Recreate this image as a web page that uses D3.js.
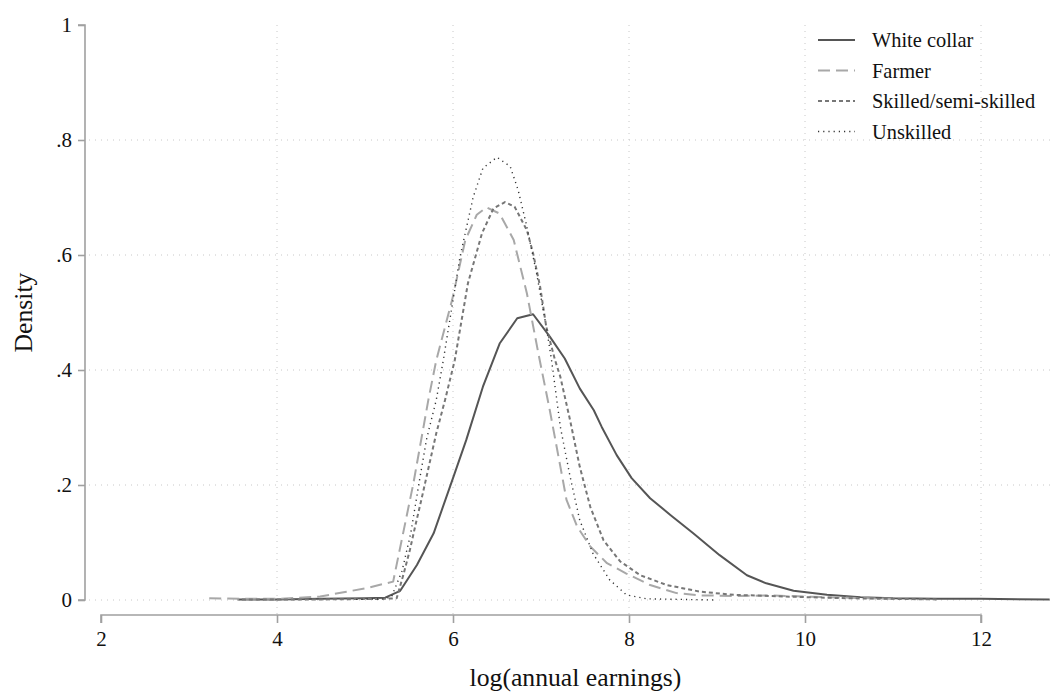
<!DOCTYPE html>
<html>
<head>
<meta charset="utf-8">
<script src="https://cdn.jsdelivr.net/npm/d3@7"></script>
<style>
  body { margin: 0; background: #fff; }
  text { font-family: "Liberation Serif", "Times New Roman", serif; fill: #111; }
</style>
</head>
<body>
<svg width="1056" height="694"></svg>
<script>
// kernel density estimates
var whiteX = [3.55, 4.0, 4.5, 5.0, 5.23, 5.40, 5.59, 5.78, 6.0, 6.15, 6.34, 6.53, 6.73, 6.91, 7.10, 7.27, 7.44, 7.6, 7.69, 7.86, 8.03, 8.24, 8.47, 8.73, 9.03, 9.34, 9.56, 9.87, 10.25, 10.63, 11.0, 11.5, 12.0, 12.78];
var whiteY = [0.001, 0.001, 0.002, 0.003, 0.004, 0.016, 0.061, 0.116, 0.212, 0.278, 0.371, 0.446, 0.490, 0.497, 0.458, 0.42, 0.368, 0.33, 0.301, 0.252, 0.212, 0.177, 0.148, 0.116, 0.078, 0.043, 0.029, 0.016, 0.009, 0.005, 0.003, 0.002, 0.002, 0.001];

var farmX = [3.23, 3.6, 4.0, 4.49, 4.79, 5.0, 5.32, 5.55, 5.72, 5.81, 5.99, 6.14, 6.27, 6.38, 6.53, 6.69, 6.84, 6.97, 7.1, 7.22, 7.29, 7.41, 7.56, 7.75, 7.97, 8.24, 8.54, 8.81, 9.2, 9.6, 10.0, 10.5, 11.0];
var farmY = [0.003, 0.002, 0.002, 0.006, 0.0145, 0.02, 0.032, 0.203, 0.348, 0.417, 0.522, 0.626, 0.670, 0.683, 0.672, 0.626, 0.533, 0.429, 0.33, 0.232, 0.174, 0.128, 0.093, 0.064, 0.046, 0.026, 0.012, 0.008, 0.007, 0.008, 0.006, 0.004, 0.002];

var skillX = [3.6, 4.5, 5.2, 5.36, 5.44, 5.51, 5.57, 5.64, 5.81, 5.91, 6.02, 6.17, 6.33, 6.46, 6.59, 6.70, 6.84, 6.91, 6.99, 7.06, 7.16, 7.22, 7.33, 7.44, 7.56, 7.71, 7.90, 8.13, 8.43, 8.81, 9.19, 9.6, 10.0, 10.5, 11.0, 11.5];
var skillY = [0.001, 0.001, 0.002, 0.003, 0.046, 0.087, 0.128, 0.174, 0.29, 0.348, 0.417, 0.551, 0.638, 0.681, 0.692, 0.684, 0.643, 0.603, 0.545, 0.475, 0.417, 0.388, 0.313, 0.232, 0.162, 0.104, 0.067, 0.043, 0.026, 0.0145, 0.009, 0.007, 0.005, 0.003, 0.002, 0.001];

var unskX = [4.9, 5.2, 5.3, 5.42, 5.52, 5.61, 5.70, 5.81, 5.89, 6.08, 6.23, 6.34, 6.50, 6.65, 6.74, 6.84, 6.95, 7.06, 7.12, 7.22, 7.33, 7.44, 7.59, 7.78, 7.97, 8.2, 8.6, 9.0];
var unskY = [0.001, 0.002, 0.005, 0.05, 0.116, 0.2, 0.28, 0.348, 0.417, 0.597, 0.701, 0.751, 0.770, 0.754, 0.713, 0.649, 0.568, 0.475, 0.417, 0.301, 0.215, 0.139, 0.081, 0.035, 0.009, 0.002, 0.001, 0.0];

var seriesNames = ["White collar", "Farmer", "Skilled/semi-skilled", "Unskilled"];
var xTicks = [2, 4, 6, 8, 10, 12];
var yTicks = [0, 0.2, 0.4, 0.6, 0.8, 1];

var svg = d3.select("svg");

var x = d3.scaleLinear().domain([2, 12]).range([101, 981]);
var y = d3.scaleLinear().domain([0, 1]).range([600, 25]);
var plotLeft = 85, plotRight = 1050;

var styles = [
  {color: "#555", width: 2, dash: null},
  {color: "#a8a8a8", width: 2, dash: "12,6"},
  {color: "#777", width: 2, dash: "4,3"},
  {color: "#333", width: 1.4, dash: "1.2,4"}
];

// grid
var grid = svg.append("g");
grid.selectAll(".hg").data(yTicks.filter(function(d) { return d < 1; }))
  .enter().append("line")
  .attr("x1", plotLeft + 4).attr("x2", plotRight)
  .attr("y1", function(d) { return y(d); }).attr("y2", function(d) { return y(d); })
  .attr("stroke", "#c8c8c8").attr("stroke-width", 1).attr("stroke-dasharray", "1,5");
grid.selectAll(".vg").data(xTicks.filter(function(d) { return d > 2; }))
  .enter().append("line")
  .attr("y1", y(1)).attr("y2", y(0) + 14)
  .attr("x1", function(d) { return x(d); }).attr("x2", function(d) { return x(d); })
  .attr("stroke", "#c8c8c8").attr("stroke-width", 1).attr("stroke-dasharray", "1,5");

// axes
var yAxis = svg.append("g")
  .attr("transform", "translate(" + plotLeft + ",0)")
  .call(d3.axisLeft(y).tickValues(yTicks).tickSize(7).tickPadding(6)
    .tickFormat(function(d) { return d === 0 ? "0" : d === 1 ? "1" : d3.format(".1f")(d).replace(/^0/, ""); }));
var xAxis = svg.append("g")
  .attr("transform", "translate(0,615)")
  .call(d3.axisBottom(x).tickValues(xTicks).tickSize(8).tickPadding(8));
[xAxis, yAxis].forEach(function(a) {
  a.select(".domain").attr("stroke", "#a0a0a0").attr("stroke-width", 1.6);
  a.selectAll(".tick line").attr("stroke", "#a0a0a0").attr("stroke-width", 1.6);
  a.selectAll(".tick text").attr("font-size", 21).attr("fill", "#111")
    .attr("font-family", "Liberation Serif");
});
yAxis.select(".domain").attr("d", "M-7," + y(1) + "H0V" + y(0) + "H-7");
xAxis.select(".domain").attr("d", "M" + x(2) + ",8V0H" + x(12) + "V8");

svg.append("text")
  .attr("x", 575.5).attr("y", 686)
  .attr("text-anchor", "middle").attr("font-size", 25.7)
  .text("log(annual earnings)");
svg.append("text")
  .attr("transform", "translate(32," + y(0.5) + ") rotate(-90)")
  .attr("text-anchor", "middle").attr("font-size", 25.7)
  .text("Density");

// curves
var line = d3.line().x(function(d) { return x(d[0]); }).y(function(d) { return y(d[1]); });
var data = [d3.zip(whiteX, whiteY), d3.zip(farmX, farmY), d3.zip(skillX, skillY), d3.zip(unskX, unskY)];
svg.selectAll(".curve").data(data).enter().append("path")
  .attr("class", "curve")
  .attr("d", line)
  .attr("fill", "none")
  .attr("stroke", function(d, i) { return styles[i].color; })
  .attr("stroke-width", function(d, i) { return styles[i].width; })
  .attr("stroke-dasharray", function(d, i) { return styles[i].dash; })
  .attr("stroke-linejoin", "round");

// legend
var legend = svg.append("g").attr("transform", "translate(818,40)");
var item = legend.selectAll("g").data(seriesNames).enter().append("g")
  .attr("transform", function(d, i) { return "translate(0," + (i * 30.5) + ")"; });
item.append("line")
  .attr("x1", 0).attr("x2", 37).attr("y1", 0).attr("y2", 0)
  .attr("stroke", function(d, i) { return styles[i].color; })
  .attr("stroke-width", function(d, i) { return styles[i].width; })
  .attr("stroke-dasharray", function(d, i) { return styles[i].dash; });
item.append("text")
  .attr("x", 54).attr("y", 7)
  .attr("font-size", 20.4)
  .text(function(d) { return d; });
</script>
</body>
</html>
